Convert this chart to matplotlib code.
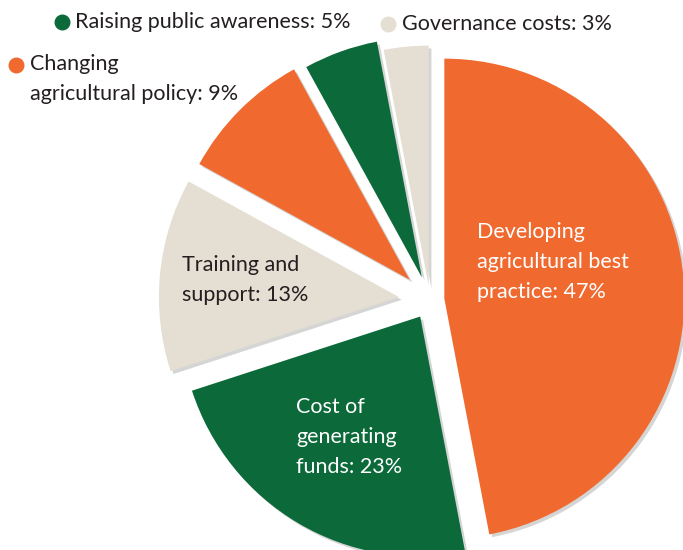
import matplotlib.pyplot as plt
import matplotlib.patheffects as pe

# Share of spending by activity
labels = ['Developing\nagricultural best\npractice: 47%', 'Cost of\ngenerating\nfunds: 23%',
          'Training and\nsupport: 13%', 'Changing\nagricultural policy: 9%',
          'Raising public awareness: 5%', 'Governance costs: 3%']
shares = [47, 23, 13, 9, 5, 3]
explode = [0.06, 0.08, 0.13, 0.12, 0.1, 0.06]

orange = '#F0692F'
green = '#0C6A3A'
beige = '#E4DFD2'
colors = [orange, green, beige, orange, green, beige]

plt.rcParams['font.family'] = ['Lato', 'DejaVu Sans']

fig = plt.figure(figsize=(6.83, 5.5), dpi=100)
ax = fig.add_axes([0, 0, 1, 1])

wedges, _ = ax.pie(shares, colors=colors, explode=explode, startangle=90,
                   counterclock=False, radius=1.0)
for w in wedges:
    w.set_path_effects([pe.SimplePatchShadow(offset=(2, -2), shadow_rgbFace='#888888', alpha=0.35),
                        pe.Normal()])

# centre at pixel (430, 300), radius 240 px
ax.set_xlim(-430 / 240, (683 - 430) / 240)
ax.set_ylim(-250 / 240, 300 / 240)
ax.set_aspect('equal')
ax.axis('off')

W, H = 683, 550
def px(x, y):
    return x / W, 1 - y / H

fs = 15.5
ls = 1.65
dark = '#231F20'
# labels inside the slices
fig.text(*px(477, 262), labels[0], color='white', fontsize=fs, va='center', ha='left', linespacing=ls)
fig.text(*px(296, 437), labels[1], color='white', fontsize=fs, va='center', ha='left', linespacing=ls)
fig.text(*px(182, 280), labels[2], color=dark, fontsize=fs, va='center', ha='left', linespacing=ls)

# labels outside with dots
fig.text(*px(30, 79), labels[3], color=dark, fontsize=fs, va='center', ha='left', linespacing=ls)
fig.text(*px(75, 22), labels[4], color=dark, fontsize=fs, va='center', ha='left')
fig.text(*px(402, 24), labels[5], color=dark, fontsize=fs, va='center', ha='left')
for (x, y), c in zip([(16, 65), (62, 22), (388, 24)], [orange, green, beige]):
    ax.scatter(*px(x, y), s=110, color=c, transform=fig.transFigure, clip_on=False, zorder=5)

fig.savefig('out.png', dpi=100)
